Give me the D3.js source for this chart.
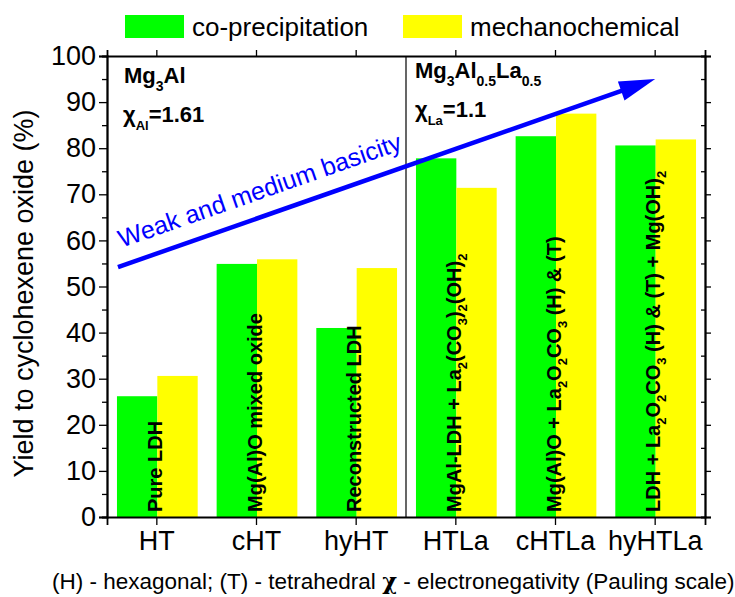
<!DOCTYPE html>
<html>
<head>
<meta charset="utf-8">
<script src="https://cdn.jsdelivr.net/npm/d3@7"></script>
<style>
  body { margin: 0; background: #fff; }
  svg text { font-family: Arial, "Liberation Sans", sans-serif; fill: #000; }
</style>
</head>
<body>
<div id="chart"></div>
<script>
// samples and the two synthesis routes
var categories = ["HT", "cHT", "hyHT", "HTLa", "cHTLa", "hyHTLa"];
var series = ["co-precipitation", "mechanochemical"];
var seriesColors = ["#00ff00", "#ffff00"];
var coprecipitation = [26.2, 54.9, 41.0, 77.8, 82.6, 80.6];
var mechanochemical = [30.6, 55.9, 54.0, 71.4, 87.5, 81.9];
var yTicks = [0, 10, 20, 30, 40, 50, 60, 70, 80, 90, 100];

// phase labels written inside the bars, [text, isSubscript]
var phaseLabels = [
  [["Pure LDH", 0]],
  [["Mg(Al)O mixed oxide", 0]],
  [["Reconstructed LDH", 0]],
  [["MgAl-LDH + La", 0], ["2", 1], ["(CO", 0], ["3", 1], [")", 0], ["2", 1], ["(OH)", 0], ["2", 1]],
  [["Mg(Al)O +  La", 0], ["2", 1], ["O", 0], ["2", 1], ["CO", 0], ["3", 1], [" (H) & (T)", 0]],
  [["LDH + La", 0], ["2", 1], ["O", 0], ["2", 1], ["CO", 0], ["3", 1], [" (H) & (T) + Mg(OH)", 0], ["2", 1]]
];

// basicity arrow, [category index, yield]
var arrowFrom = [-0.39, 54.2];
var arrowTo = [5.0, 95.0];

var margin = {top: 56, right: 30, bottom: 80, left: 107};
var width = 735 - margin.left - margin.right;
var height = 597 - margin.top - margin.bottom;

var svgRoot = d3.select("#chart").append("svg")
  .attr("width", 735)
  .attr("height", 597);

var svg = svgRoot.append("g")
  .attr("transform", "translate(" + margin.left + "," + margin.top + ")");

var x0 = d3.scaleBand().domain(categories).range([0, width]);
var bw = x0.bandwidth();
var x1 = d3.scaleBand().domain(series).range([bw * 0.1, bw * 0.91]);
var xi = d3.scaleLinear().domain([-0.5, categories.length - 0.5]).range([0, width]);
var y = d3.scaleLinear().domain([0, 100]).range([height, 0]);

// appends plain / subscript tspans
function richText(sel, segs, subSize, shift) {
  var down = false;
  segs.forEach(function (s) {
    var t = sel.append("tspan").text(s[0]);
    if (s[1] && !down) { t.attr("dy", shift); down = true; }
    else if (!s[1] && down) { t.attr("dy", -shift); down = false; }
    if (s[1]) t.style("font-size", subSize + "px");
  });
}

// bars
var rows = categories.map(function (c, i) {
  return {cat: c, vals: [coprecipitation[i], mechanochemical[i]]};
});

var group = svg.selectAll(".grp")
  .data(rows)
  .enter().append("g")
  .attr("class", "grp")
  .attr("transform", function (d) { return "translate(" + x0(d.cat) + ",0)"; });

group.selectAll("rect")
  .data(function (d) { return d.vals.map(function (v, j) { return {s: series[j], v: v, j: j}; }); })
  .enter().append("rect")
  .attr("x", function (d) { return x1(d.s); })
  .attr("y", function (d) { return y(d.v); })
  .attr("width", x1.bandwidth())
  .attr("height", function (d) { return height - y(d.v); })
  .style("fill", function (d) { return seriesColors[d.j]; });

// rotated phase labels
categories.forEach(function (c, i) {
  var t = svg.append("text")
    .attr("transform", "translate(" + (x0(c) + bw / 2 + 5) + "," + (height - 5) + ") rotate(-90)")
    .style("font-size", "20px")
    .style("font-weight", "bold");
  richText(t, phaseLabels[i], 13, 6);
});

// divider between Mg3Al and Mg3Al0.5La0.5
svg.append("line")
  .attr("x1", x0("HTLa")).attr("x2", x0("HTLa"))
  .attr("y1", 0).attr("y2", height)
  .style("stroke", "#000").style("stroke-width", 1.2);

// axes
var yAxis = d3.axisLeft(y).tickValues(yTicks).tickSize(8).tickPadding(3);
svg.append("g").attr("class", "y axis").call(yAxis);

var minor = d3.range(5, 100, 10);
svg.append("g").call(d3.axisLeft(y).tickValues(minor).tickSize(5).tickFormat(""));
svg.append("g").attr("transform", "translate(" + width + ",0)")
  .call(d3.axisLeft(y).tickValues(yTicks).tickSize(-6).tickFormat(""));
svg.append("g").attr("transform", "translate(" + width + ",0)")
  .call(d3.axisRight(y).tickValues(minor).tickSize(-4).tickFormat(""));

var xAxis = d3.axisBottom(x0).tickSize(8).tickPadding(6);
svg.append("g").attr("class", "x axis")
  .attr("transform", "translate(0," + height + ")")
  .call(xAxis);
svg.append("g").call(d3.axisBottom(x0).tickSize(-6).tickFormat(""));

svg.selectAll(".domain").style("stroke", "#000").style("stroke-width", 1.8);
svg.selectAll(".tick line").style("stroke", "#000").style("stroke-width", 1.3);
svg.selectAll(".y.axis .tick text").style("font-size", "27px").style("font-family", "Arial, 'Liberation Sans', sans-serif");
svg.selectAll(".x.axis .tick text").style("font-size", "27px").style("font-family", "Arial, 'Liberation Sans', sans-serif");

// axis title
svg.append("text")
  .attr("transform", "rotate(-90)")
  .attr("x", -(height / 2) - 7)
  .attr("y", -margin.left + 33)
  .style("text-anchor", "middle")
  .style("font-size", "27px")
  .text("Yield to cyclohexene oxide (%)");

// composition notes
var t1 = svg.append("text").attr("x", 17).attr("y", 27)
  .style("font-size", "22px").style("font-weight", "bold");
richText(t1, [["Mg", 0], ["3", 1], ["Al", 0]], 14, 8);
var t2 = svg.append("text").attr("x", 16).attr("y", 66)
  .style("font-size", "22px").style("font-weight", "bold");
richText(t2, [["\u03c7", 0], ["Al", 1], ["=1.61", 0]], 13, 8);
var t3 = svg.append("text").attr("x", x0("HTLa") + 9).attr("y", 22)
  .style("font-size", "22px").style("font-weight", "bold");
richText(t3, [["Mg", 0], ["3", 1], ["Al", 0], ["0.5", 1], ["La", 0], ["0.5", 1]], 14, 8);
var t4 = svg.append("text").attr("x", x0("HTLa") + 9).attr("y", 61)
  .style("font-size", "22px").style("font-weight", "bold");
richText(t4, [["\u03c7", 0], ["La", 1], ["=1.1", 0]], 13, 8);

// arrow
var p0 = [xi(arrowFrom[0]), y(arrowFrom[1])];
var p1 = [xi(arrowTo[0]), y(arrowTo[1])];
var ang = Math.atan2(p1[1] - p0[1], p1[0] - p0[0]);
var dir = [Math.cos(ang), Math.sin(ang)];
var nrm = [Math.sin(ang), -Math.cos(ang)];
var headLen = 36, headHalf = 10;
var base = [p1[0] - headLen * dir[0], p1[1] - headLen * dir[1]];

svg.append("line")
  .attr("x1", p0[0]).attr("y1", p0[1])
  .attr("x2", base[0] + 4 * dir[0]).attr("y2", base[1] + 4 * dir[1])
  .style("stroke", "#0000ff").style("stroke-width", 4.5);
svg.append("path")
  .attr("d", "M" + p1[0] + "," + p1[1] +
    "L" + (base[0] + headHalf * nrm[0]) + "," + (base[1] + headHalf * nrm[1]) +
    "L" + (base[0] - headHalf * nrm[0]) + "," + (base[1] - headHalf * nrm[1]) + "Z")
  .style("fill", "#0000ff");

var tp = [p0[0] + 17 * nrm[0] + 10 * dir[0], p0[1] + 17 * nrm[1] + 10 * dir[1]];
svg.append("text")
  .attr("transform", "translate(" + tp[0] + "," + tp[1] + ") rotate(" + (ang * 180 / Math.PI) + ")")
  .style("font-size", "25px")
  .style("fill", "#0000ff")
  .text("Weak and medium basicity");

// legend
var legendX = [125, 403];
series.forEach(function (s, i) {
  svgRoot.append("rect")
    .attr("x", legendX[i]).attr("y", 15)
    .attr("width", 59).attr("height", 23)
    .style("fill", seriesColors[i]);
  svgRoot.append("text")
    .attr("x", legendX[i] + 67).attr("y", 36)
    .style("font-size", "26px")
    .text(s);
});

// footnote
var cap = svgRoot.append("text")
  .attr("x", 52).attr("y", 589)
  .style("font-size", "22.5px");
cap.append("tspan").text("(H) - hexagonal; (T) - tetrahedral  ");
cap.append("tspan").style("font-weight", "bold").style("font-family", "'DejaVu Serif', serif").text("\u03c7");
cap.append("tspan").text(" - electronegativity (Pauling scale)");
</script>
</body>
</html>
